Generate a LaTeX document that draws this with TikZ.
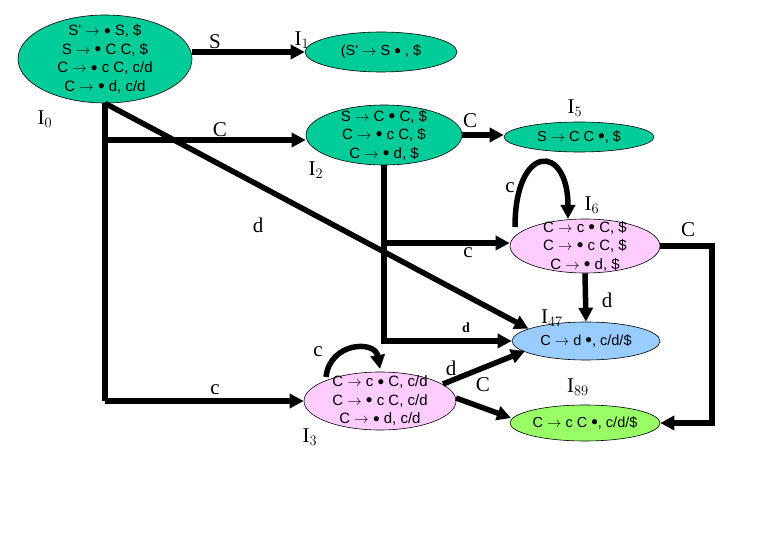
\documentclass[tikz,border=0pt]{standalone}
\usepackage{fontspec}
\setmainfont{Liberation Serif}
\newfontfamily\arial{Liberation Sans}
\usetikzlibrary{shapes.geometric,arrows.meta}
\definecolor{tealg}{HTML}{00CC99}
\definecolor{pinkst}{HTML}{FFCCFF}
\definecolor{bluest}{HTML}{99CCFF}
\definecolor{greenst}{HTML}{99FF66}
\newcommand\bl{\raisebox{-0.15ex}{\fontsize{19}{18}\selectfont •}}
\begin{document}
\begin{tikzpicture}[x=1pt,y=-1pt,
  st/.style={ellipse, draw=black, line width=0.6pt, inner sep=0pt},
  arr/.style={line width=5.5pt, -{Triangle[length=14pt,width=14pt]}},
  ln/.style={line width=5.5pt},
  lbl/.style={font=\fontsize{21}{21}\selectfont, inner sep=0pt},
  etxt/.style={font=\arial\fontsize{15}{18.5}\selectfont, align=center, inner sep=0pt},
  stxt/.style={font=\arial\fontsize{14.5}{15}\selectfont, align=center, inner sep=0pt}]
\useasboundingbox (0,0) rectangle (780,540);
% states
\node[st, fill=tealg, minimum width=174, minimum height=88] (I0) at (105,59) {};
\node[etxt] (t0) at (I0.center) {S' $\rightarrow$ \bl\ S, \$\\S $\rightarrow$ \bl\ C C, \$\\C $\rightarrow$ \bl\ c C, c/d\\C $\rightarrow$ \bl\ d, c/d};
\node[st, fill=tealg, minimum width=152, minimum height=40] (I1) at (381,52) {};
\node[stxt] (t1) at (I1.center) {(S' $\rightarrow$ S \bl\ , \$};
\node[st, fill=tealg, minimum width=156, minimum height=60] (I2) at (384,135) {};
\node[etxt] (t2) at (I2.center) {S $\rightarrow$ C \bl\ C, \$\\C $\rightarrow$ \bl\ c C, \$\\C $\rightarrow$ \bl\ d, \$};
\node[st, fill=tealg, minimum width=150, minimum height=30] (I5) at (579,137) {};
\node[stxt] (t5) at (I5.center) {S $\rightarrow$ C C \bl, \$};
\node[st, fill=pinkst, minimum width=150, minimum height=54] (I6) at (585,246) {};
\node[etxt] (t6) at (I6.center) {C $\rightarrow$ c \bl\ C, \$\\C $\rightarrow$ \bl\ c C, \$\\C $\rightarrow$ \bl\ d, \$};
\node[st, fill=bluest, minimum width=148, minimum height=38] (I47) at (586,341) {};
\node[stxt] (t47) at (I47.center) {C $\rightarrow$ d \bl, c/d/\$};
\node[st, fill=pinkst, minimum width=152, minimum height=58] (I3) at (380,401) {};
\node[etxt] (t3) at (I3.center) {C $\rightarrow$ c \bl\ C, c/d\\C $\rightarrow$ \bl\ c C, c/d\\C $\rightarrow$ \bl\ d, c/d};
\node[st, fill=greenst, minimum width=150, minimum height=36] (I89) at (585,423) {};
\node[stxt] (t89) at (I89.center) {C $\rightarrow$ c C \bl, c/d/\$};
% connectors
\draw[arr] (I0.east |- I1.west) -- (I1.west);
\draw[arr] (I0.south) -- (I0.south |- 0,140) -- ([yshift=-5pt]I2.west);
\draw[ln] (I0.south |- 0,140) -- (I0.south |- I3.west);
\draw[arr] (I0.south |- I3.west) -- (I3.west);
\draw[arr] (I0.south) -- (I47.168);
\draw[arr] (I2.east) -- (I5.west |- I2.east);
\draw[arr] (I2.south) -- (I2.south |- I47.west) -- (I47.west);
\draw[arr] (I2.south |- 0,243) -- (I6.west |- 0,243);
\coordinate (l6s) at (515,227);
\coordinate (l6e) at (568,219);
\draw[arr] (l6s) .. controls (515,143) and (568,143) .. (l6e);
\draw[arr] (I6.east) -- (712,246) |- (I89.east);
\draw[arr] (I6.south) -- (I47.north);
\coordinate (l3s) at (326,377);
\coordinate (l3e) at (380,369);
\draw[arr] (l3s) .. controls (330,342) and (375,340) .. (l3e);
\coordinate (d3s) at (443,384);
\coordinate (d3e) at (525,351);
\draw[arr] (d3s) -- (d3e);
\coordinate (c3s) at (456,398);
\coordinate (c3e) at (511,418);
\draw[arr] (c3s) -- (c3e);
% labels
\node[lbl] (lS) at (215,42) {S};
\node[lbl] (lI1) at (302,40) {I$_1$};
\node[lbl] (lI0) at (45,119) {I$_0$};
\node[lbl] (lC0) at (220,130) {C};
\node[lbl] (lI2) at (316,170) {I$_2$};
\node[lbl] (ld0) at (258,225) {d};
\node[lbl] (lc0) at (215,390) {c};
\node[lbl] (lC2) at (470,121) {C};
\node[lbl] (lI5) at (575,108) {I$_5$};
\node[lbl] (lc6) at (510,188) {c};
\node[lbl] (lI6) at (592,205) {I$_6$};
\node[lbl] (lC6) at (688,230) {C};
\node[lbl] (lc2) at (468,253) {c};
\node[font=\bfseries\fontsize{14}{14}\selectfont, inner sep=0pt] (ld2) at (466,328) {d};
\node[lbl] (ld6) at (607,300) {d};
\node[lbl] (lI47) at (552,318) {I$_{47}$};
\node[lbl] (lc3) at (318,352) {c};
\node[lbl] (ld3) at (451,368) {d};
\node[lbl] (lC3) at (483,385) {C};
\node[lbl] (lI89) at (578,387) {I$_{89}$};
\node[lbl] (lI3) at (310,437) {I$_3$};
\end{tikzpicture}
\end{document}
